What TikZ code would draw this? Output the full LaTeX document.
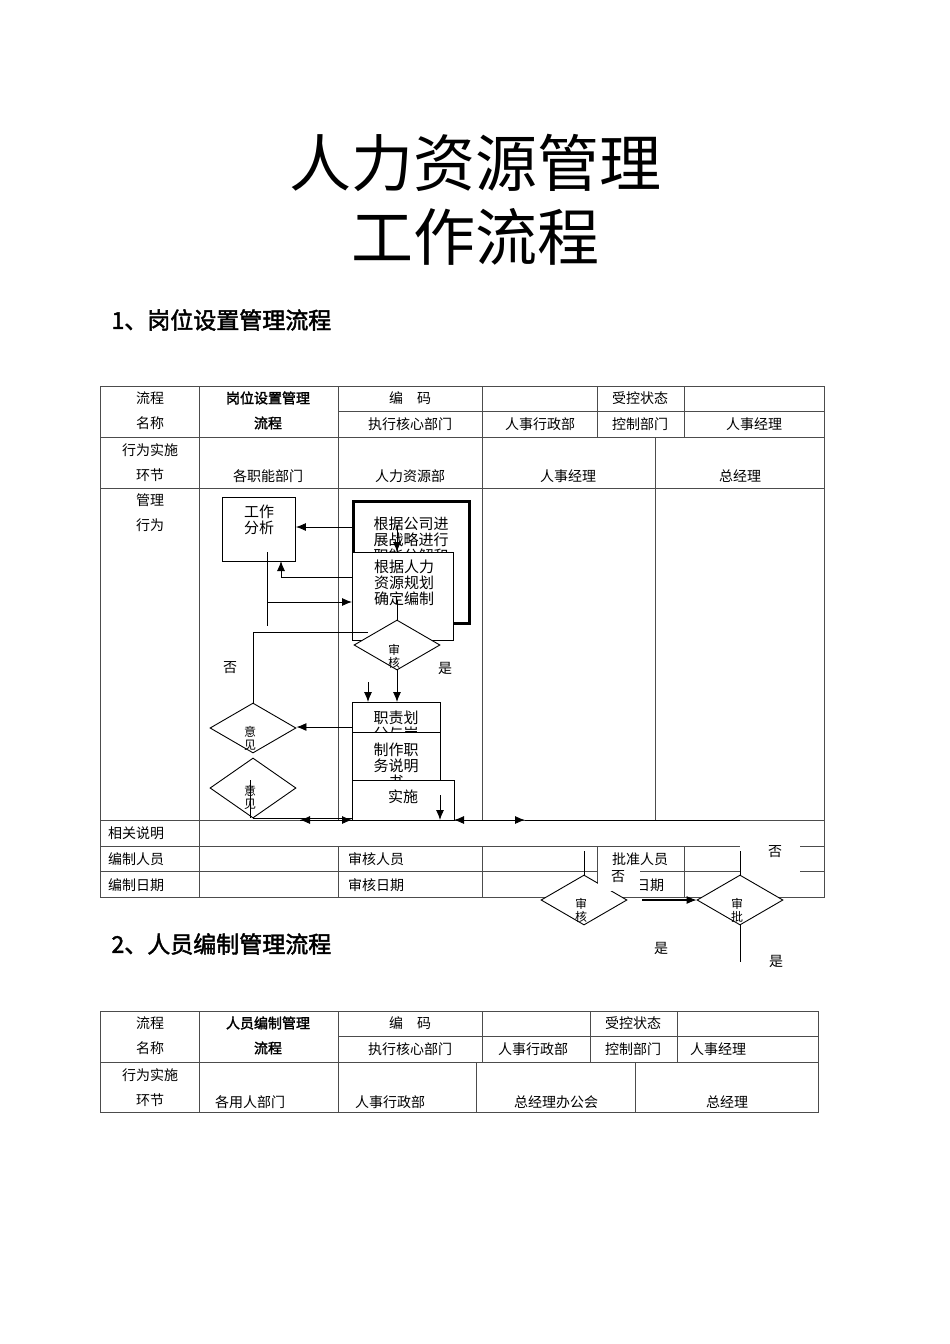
\documentclass[tikz,border=0pt]{standalone}
\usepackage{fontspec}
\usetikzlibrary{shapes.geometric,arrows.meta}
\setmainfont{Noto Sans CJK SC}[AutoFakeBold=2]
\begin{document}
\begin{tikzpicture}[x=1pt,y=-1pt,
  tl/.style={draw=black!70,line width=0.8pt},
  fl/.style={draw=black,line width=0.9pt},
  ar/.style={fl,-{Latex[length=10pt,width=8pt]}},
  txt/.style={font=\fontsize{14}{16}\selectfont,inner sep=0pt},
  ft/.style={font=\fontsize{15}{16}\selectfont,inner sep=0pt,align=center},
  dm/.style={font=\fontsize{12}{13}\selectfont,inner sep=0pt,align=center}]
\useasboundingbox[fill=white] (0,0) rectangle (950,1344);
% title
\node (t1) at (475,163) {\fontsize{62}{64}\selectfont 人力资源管理};
\node (t2) at (475,237) {\fontsize{62}{64}\selectfont 工作流程};
\node[anchor=west] (h1) at (108,320) {\fontsize{23}{25}\selectfont\bfseries 1、岗位设置管理流程};
\node[anchor=west] (h2) at (108,944) {\fontsize{23}{25}\selectfont\bfseries 2、人员编制管理流程};
% table 1
\draw[tl] (100,386) rectangle (824,897);
\foreach \y in {437,488,820,846,871} \draw[tl] (100,\y) -- (824,\y);
\draw[tl] (338,411) -- (824,411);
\foreach \x in {199,338,482,597,684} \draw[tl] (\x,386) -- (\x,437);
\foreach \x in {199,338,482,655} \draw[tl] (\x,437) -- (\x,820);
\draw[tl] (199,820) -- (199,897);
\foreach \x in {338,482,597,684} \draw[tl] (\x,846) -- (\x,897);
\node[txt] (a1) at (150,398) {流程};
\node[txt] (a2) at (150,423) {名称};
\node[txt,font=\fontsize{14}{16}\selectfont\bfseries] (a3) at (268,398) {岗位设置管理};
\node[txt,font=\fontsize{14}{16}\selectfont\bfseries] (a4) at (268,423) {流程};
\node[txt] (a5) at (410,398) {编\quad 码};
\node[txt] (a6) at (410,424) {执行核心部门};
\node[txt] (a7) at (640,398) {受控状态};
\node[txt] (a8) at (540,424) {人事行政部};
\node[txt] (a9) at (640,424) {控制部门};
\node[txt] (a10) at (754,424) {人事经理};
\node[txt] (b1) at (150,450) {行为实施};
\node[txt] (b2) at (150,475) {环节};
\node[txt] (b3) at (268,476) {各职能部门};
\node[txt] (b4) at (410,476) {人力资源部};
\node[txt] (b5) at (568,476) {人事经理};
\node[txt] (b6) at (740,476) {总经理};
\node[txt] (c1) at (150,500) {管理};
\node[txt] (c2) at (150,525) {行为};
\node[txt,anchor=west] (d1) at (108,833) {相关说明};
\node[txt,anchor=west] (d2) at (108,859) {编制人员};
\node[txt,anchor=west] (d3) at (108,885) {编制日期};
\node[txt,anchor=west] (d4) at (348,859) {审核人员};
\node[txt,anchor=west] (d5) at (348,885) {审核日期};
\node[txt] (d6) at (640,859) {批准人员};
\node[txt] (d7) at (650,885) {日期};
% flow
\node[draw,fl,minimum width=73,minimum height=64,anchor=north west] (wa) at (222,497) {};
\node[ft] at (259,520) {工作\\分析};
\draw[line width=3pt] (353,501) rectangle (469,623);
\begin{scope}
\clip (352,500) rectangle (470,552);
\node[ft] (gs) at (411,540) {根据公司进\\展战略进行\\职能分解和};
\end{scope}
\node[draw,fl,fill=white,minimum width=101,minimum height=88,anchor=north west] (rl) at (352,552) {};
\node[ft] at (404,583) {根据人力\\资源规划\\确定编制};
\node[draw,fl,fill=white,diamond,aspect=1.72,minimum width=86,minimum height=50,inner sep=0pt] (sh) at (397,645) {};
\node[dm] at (394,656) {审\\核};
\node[draw,fl,fill=white,minimum width=88,minimum height=33,anchor=north west] (zz) at (352,702) {};
\begin{scope}\clip (352,702) rectangle (440,733);
\node[ft] at (396,726) {职责划\\分与岗};\end{scope}
\node[draw,fl,fill=white,minimum width=88,minimum height=50,anchor=north west] (zs) at (352,732) {};
\begin{scope}\clip (352,732) rectangle (440,781);
\node[ft] at (396,766) {制作职\\务说明\\书};\end{scope}
\node[draw,fl,fill=white,minimum width=102,minimum height=40,anchor=north west] (ss) at (352,780) {};
\node[ft] at (403,797) {实施};
\node[draw,fl,fill=white,diamond,aspect=1.72,minimum width=86,minimum height=50,inner sep=0pt] (y1) at (253,728) {};
\node[dm] at (250,738) {意\\见};
\node[draw,fl,fill=white,diamond,aspect=1.43,minimum width=86,minimum height=60,inner sep=0pt] (y2) at (253,788) {};
\node[dm] at (250,797) {意\\见};
\coordinate (p1) at (352,527);
\draw[ar] (p1) -- (wa.east|-p1);
\draw[fl] (rl.west|-0,577) -- (281,577);
\draw[ar] (281,577) -- (281,561);
\draw[fl] (267,552) -- (267,626);
\draw[ar] (267,602) -- (352,602);
\draw[fl] (y1.north) -- (253,632) -- (368,632);
\draw[ar] (397,525) -- (397,552);
\draw[fl] (397,600) -- (397,620);
\draw[ar] (sh.south) -- (zz.north-|sh.south);
\draw[ar] (368,682) -- (368,702);
\draw[ar] (352,727) -- (y1.east|-0,727);
\draw[fl] (250,780) -- (250,818);
\draw[ar] (440,795) -- (440,820);
\draw[fl] (253,818) -- (352,818);
\draw[ar] (300,820) -- (352,820);
\draw[ar] (352,820) -- (300,820);
\draw[ar] (480,820) -- (454,820);
\draw[ar] (480,820) -- (525,820);
\draw[fl] (525,820) -- (740,820);
% bottom diamonds
\fill[white] (740,838) rectangle (800,872);
\node[txt] (f1) at (775,852) {否};
\node[draw,fl,fill=white,diamond,aspect=1.72,minimum width=86,minimum height=50,inner sep=0pt] (s2) at (584,900) {};
\node[dm] at (581,910) {审\\核};
\node[draw,fl,fill=white,diamond,aspect=1.72,minimum width=86,minimum height=50,inner sep=0pt] (s3) at (740,900) {};
\node[dm] at (737,910) {审\\批};
\draw[fl] (584,851) -- (s2.north);
\draw[fl] (740,851) -- (s3.north);
\draw[fl] (s3.south) -- (740,962);
\fill[white] (598,866) rectangle (640,891);
\node[txt] (f2) at (618,877) {否};
\draw[line width=2.2pt] (642,900) -- (690,900);
\draw[ar] (684,900) -- (s3.west);
\node[txt] (f3) at (230,668) {否};
\node[txt] (f4) at (445,668) {是};
\node[txt] (f5) at (661,948) {是};
\node[txt] (f6) at (776,961) {是};
% table 2
\draw[tl] (100,1011) rectangle (818,1112);
\draw[tl] (100,1062) -- (818,1062);
\draw[tl] (338,1036) -- (818,1036);
\foreach \x in {199,338,482,590,677} \draw[tl] (\x,1011) -- (\x,1062);
\foreach \x in {199,338,476,635} \draw[tl] (\x,1062) -- (\x,1112);
\node[txt] (g1) at (150,1023) {流程};
\node[txt] (g2) at (150,1048) {名称};
\node[txt,font=\fontsize{14}{16}\selectfont\bfseries] (g3) at (268,1023) {人员编制管理};
\node[txt,font=\fontsize{14}{16}\selectfont\bfseries] (g4) at (268,1048) {流程};
\node[txt] (g5) at (410,1023) {编\quad 码};
\node[txt] (g6) at (410,1049) {执行核心部门};
\node[txt] (g7) at (633,1023) {受控状态};
\node[txt] (g8) at (533,1049) {人事行政部};
\node[txt] (g9) at (633,1049) {控制部门};
\node[txt] (g10) at (718,1049) {人事经理};
\node[txt] (k1) at (150,1075) {行为实施};
\node[txt] (k2) at (150,1100) {环节};
\node[txt] (k3) at (250,1102) {各用人部门};
\node[txt] (k4) at (390,1102) {人事行政部};
\node[txt] (k5) at (556,1102) {总经理办公会};
\node[txt] (k6) at (727,1102) {总经理};
\end{tikzpicture}
\end{document}
